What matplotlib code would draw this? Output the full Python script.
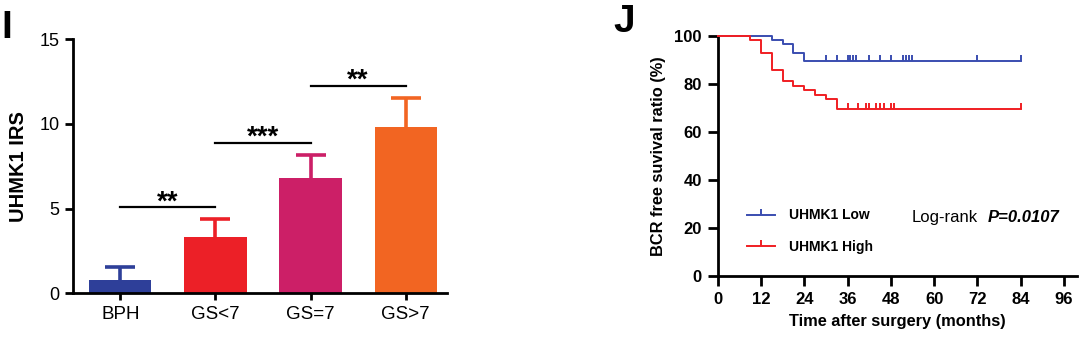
"""UHMK1 IRS by Gleason group (I) and BCR-free survival by UHMK1 level (J)."""
import numpy as np
import matplotlib
matplotlib.use("Agg")
import matplotlib.pyplot as plt
from matplotlib.lines import Line2D

plt.rcParams["font.family"] = ["Liberation Sans", "DejaVu Sans"]

# ---- panel I data ----
groups = ["BPH", "GS<7", "GS=7", "GS>7"]
irs_mean = [0.8, 3.3, 6.8, 9.8]
irs_err = [0.78, 1.08, 1.37, 1.74]
bar_colors = ["#2e3f99", "#ec2027", "#cc1f67", "#f26522"]
sig_pairs = [(0, 1), (1, 2), (2, 3)]
sig_heights = [5.08, 8.9, 12.26]
sig_labels = ["**", "***", "**"]

# ---- panel J data ----
low_t = [0, 15, 18, 21, 24, 84]
low_s = [100, 98.2, 96.4, 92.9, 89.3, 89.3]
low_cens = [30, 33, 36, 36.7, 37.4, 38.3, 42, 45, 48, 51.5, 52.2, 53, 54, 72, 84]
high_t = [0, 9, 12, 15, 18, 21, 24, 27, 30, 33, 84]
high_s = [100, 98.2, 93.0, 85.8, 81.0, 79.2, 77.4, 75.4, 73.6, 69.5, 69.5]
high_cens = [36, 39, 41, 42, 44, 45, 46, 48, 49, 84]
low_color = "#3a4db0"
high_color = "#f01e23"

tick_up = [(0, 0), (0, 1)]  # censor mark pointing up from the curve

fig = plt.figure(figsize=(10.84, 3.41), dpi=100)

# ================= panel I =================
ax1 = fig.add_axes([0.0671, 0.1399, 0.3449, 0.7448])
x = np.arange(len(groups))
ax1.bar(x, irs_mean, width=0.655, color=bar_colors, zorder=2)
for xi, m, e, c in zip(x, irs_mean, irs_err, bar_colors):
    _, caps, _ = ax1.errorbar(xi, m, yerr=[[0], [e]], color=c, elinewidth=2.6,
                              capsize=11, capthick=2.6, zorder=1)
    for cl in caps:
        # only the upper whisker cap is shown
        if np.allclose(cl.get_ydata(), m):
            cl.set_visible(False)
for (a, b), h, lab in zip(sig_pairs, sig_heights, sig_labels):
    ax1.plot([x[a], x[b]], [h, h], color="black", lw=1.6)
    ax1.annotate(lab, xy=((x[a] + x[b]) / 2, h), xytext=(0, -1.5),
                 textcoords="offset points", ha="center", va="baseline",
                 fontsize=20, fontweight="bold")
ax1.set_xlim(-0.5, 3.43)
ax1.set_ylim(0, 15)
ax1.set_yticks([0, 5, 10, 15])
ax1.set_xticks(x)
ax1.set_xticklabels(groups)
ax1.tick_params(axis="y", labelsize=13, length=6, width=2)
ax1.tick_params(axis="x", labelsize=13.5, length=5, width=2, pad=4)
ax1.set_ylabel("UHMK1 IRS", fontsize=14.5, fontweight="bold", labelpad=8)
for s in ["top", "right"]:
    ax1.spines[s].set_visible(False)
for s in ["left", "bottom"]:
    ax1.spines[s].set_linewidth(2)

# ================= panel J =================
ax2 = fig.add_axes([0.662, 0.1906, 0.3312, 0.7047])


def surv_at(times, surv, t):
    i = np.searchsorted(times, t, side="right") - 1
    return surv[i]


for t, s, cens, col in [(low_t, low_s, low_cens, low_color),
                        (high_t, high_s, high_cens, high_color)]:
    ax2.step(t, s, where="post", color=col, lw=1.4, clip_on=False, zorder=3)
    cy = [surv_at(t, s, c) for c in cens]
    ax2.plot(cens, cy, ls="none", marker=tick_up, ms=8, mew=1.4,
             color=col, clip_on=False, zorder=3)

ax2.set_xlim(0, 99.5)
ax2.set_ylim(0, 100)
ax2.set_xticks(np.arange(0, 97, 12))
ax2.set_yticks(np.arange(0, 101, 20))
ax2.tick_params(axis="both", labelsize=12, length=7.5, width=2, pad=4)
for lab in ax2.get_xticklabels() + ax2.get_yticklabels():
    lab.set_fontweight("bold")
ax2.set_xlabel("Time after surgery (months)", fontsize=11.8, fontweight="bold",
               labelpad=5)
ax2.set_ylabel("BCR free suvival ratio (%)", fontsize=11.8, fontweight="bold",
               labelpad=6)
for s in ["top", "right"]:
    ax2.spines[s].set_visible(False)
for s in ["left", "bottom"]:
    ax2.spines[s].set_linewidth(2)

handles = [Line2D([], [], color=low_color, lw=1.4, marker=tick_up, ms=8, mew=1.4),
           Line2D([], [], color=high_color, lw=1.4, marker=tick_up, ms=8, mew=1.4)]
leg = ax2.legend(handles, ["UHMK1 Low", "UHMK1 High"], loc="center left",
                 bbox_to_anchor=(0.083, 0.187), frameon=False, borderpad=0,
                 borderaxespad=0, handlelength=2.0, handletextpad=1.0,
                 labelspacing=1.25, numpoints=1,
                 prop={"size": 10, "weight": "bold"})
ax2.text(0.5405, 0.223, "Log-rank", transform=ax2.transAxes, fontsize=12,
         ha="left", va="baseline")
ax2.text(0.753, 0.223, "P=0.0107", transform=ax2.transAxes, fontsize=12,
         ha="left", va="baseline", fontweight="bold", fontstyle="italic")

fig.text(0.001, 0.8886, "I", fontsize=28, fontweight="bold", va="baseline")
fig.text(0.566, 0.906, "J", fontsize=28, fontweight="bold", va="baseline")

fig.savefig("out.png", dpi=100)
